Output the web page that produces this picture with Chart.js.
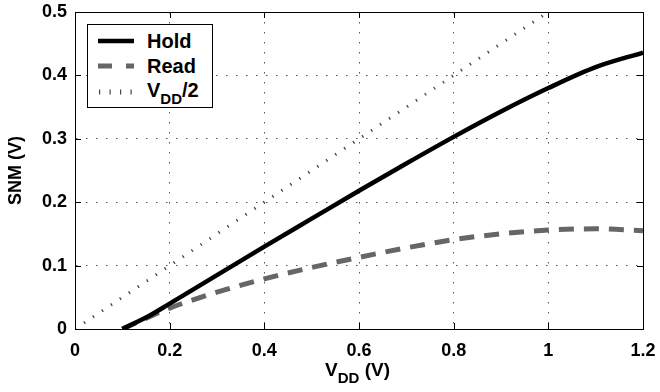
<!DOCTYPE html>
<html>
<head>
<meta charset="utf-8">
<script src="https://cdn.jsdelivr.net/npm/chart.js@4.4.1/dist/chart.umd.min.js"></script>
<style>
  html, body { margin: 0; padding: 0; background: #fff; }
  #wrap { position: relative; width: 660px; height: 392px; font-family: "Liberation Sans", Arial, sans-serif; font-weight: bold; color: #000; }
  #chart { position: absolute; left: 0; top: 0; }
  #legend { position: absolute; left: 87px; top: 24px; width: 126px; height: 84px; border: 1px solid #000; background: #fff; box-sizing: border-box; }
  #legend .row { position: absolute; left: 0; width: 100%; height: 24px; }
  #legend svg { position: absolute; left: 10px; top: 0; }
  #legend .lbl { position: absolute; left: 59px; top: 1px; font-size: 20px; line-height: 22px; }
  sub { font-size: 15px; vertical-align: -7px; line-height: 0; }
  #xtitle { position: absolute; left: 0; width: 660px; top: 359px; text-align: center; font-size: 19px; padding-left: 55px; box-sizing: border-box; }
</style>
</head>
<body>
<div id="wrap">
  <canvas id="chart" width="660" height="392"></canvas>
  <div id="legend">
    <div class="row" style="top:4px">
      <svg width="40" height="24"><line x1="0" y1="12" x2="36" y2="12" stroke="#000" stroke-width="4.5"/></svg>
      <div class="lbl">Hold</div>
    </div>
    <div class="row" style="top:29px">
      <svg width="40" height="24"><line x1="0" y1="12" x2="36" y2="12" stroke="#666" stroke-width="5" stroke-dasharray="14 14"/></svg>
      <div class="lbl">Read</div>
    </div>
    <div class="row" style="top:53px">
      <svg width="40" height="24"><line x1="1" y1="14" x2="36" y2="14" stroke="#444" stroke-width="5" stroke-dasharray="1.2 9.3"/></svg>
      <div class="lbl">V<sub>DD</sub>/2</div>
    </div>
  </div>
  <div id="xtitle">V<sub>DD</sub> (V)</div>
</div>
<script>
const vdd  = [0.10, 0.15, 0.20, 0.30, 0.40, 0.50, 0.60, 0.70, 0.80, 0.90, 1.00, 1.10, 1.20];
const hold = [0.000, 0.018, 0.040, 0.085, 0.130, 0.174, 0.218, 0.261, 0.303, 0.343, 0.380, 0.413, 0.436];
const read = [0.000, 0.017, 0.033, 0.058, 0.079, 0.097, 0.113, 0.128, 0.141, 0.150, 0.156, 0.158, 0.155];
const halfX = [0, 1.0];
const halfY = [0, 0.5];
const xTicks = [0, 0.2, 0.4, 0.6, 0.8, 1, 1.2];
const yTicks = [0, 0.1, 0.2, 0.3, 0.4, 0.5];

const pts = (xs, ys) => xs.map((x, i) => ({ x, y: ys[i] }));
const FONT = { family: '"Liberation Sans", Arial, sans-serif', size: 18, weight: 'bold' };

// closed box + inward tick marks, matlab style
const boxPlugin = {
  id: 'box',
  afterDatasetsDraw(chart) {
    const { ctx, chartArea: a, scales } = chart;
    ctx.save();
    ctx.strokeStyle = '#000';
    ctx.lineWidth = 1;
    ctx.setLineDash([]);
    ctx.beginPath();
    for (const v of xTicks) {
      const px = Math.round(scales.x.getPixelForValue(v)) + 0.5;
      ctx.moveTo(px, a.bottom); ctx.lineTo(px, a.bottom - 6);
      ctx.moveTo(px, a.top); ctx.lineTo(px, a.top + 6);
    }
    for (const v of yTicks) {
      const py = Math.round(scales.y.getPixelForValue(v)) + 0.5;
      ctx.moveTo(a.left, py); ctx.lineTo(a.left + 6, py);
      ctx.moveTo(a.right, py); ctx.lineTo(a.right - 6, py);
    }
    ctx.stroke();
    ctx.strokeRect(Math.round(a.left) + 0.5, Math.round(a.top) + 0.5, Math.round(a.right - a.left), Math.round(a.bottom - a.top));
    ctx.restore();
  }
};

new Chart(document.getElementById('chart'), {
  type: 'line',
  data: {
    datasets: [
      { label: 'Hold', data: pts(vdd, hold), borderColor: '#000', borderWidth: 4.5, cubicInterpolationMode: 'monotone', pointRadius: 0 },
      { label: 'Read', data: pts(vdd, read), borderColor: '#666', borderWidth: 5, borderDash: [15, 10], cubicInterpolationMode: 'monotone', pointRadius: 0 },
      { label: 'VDD/2', data: pts(halfX, halfY), borderColor: '#444', borderWidth: 3, borderDash: [1.3, 9.5], pointRadius: 0 }
    ]
  },
  options: {
    responsive: false,
    animation: false,
    layout: { padding: { top: 12, right: 17, left: 0, bottom: 0 } },
    plugins: { legend: { display: false }, tooltip: { enabled: false } },
    scales: {
      x: {
        type: 'linear', min: 0, max: 1.2,
        afterBuildTicks: s => { s.ticks = xTicks.map(v => ({ value: v })); },
        afterFit: s => { s.height = 63; s.paddingLeft = 0; s.paddingRight = 0; },
        ticks: { color: '#000', font: FONT, padding: 11, maxRotation: 0, callback: v => String(v) },
        grid: { color: '#555', lineWidth: 1, drawTicks: false },
        border: { display: true, color: '#000', dash: [1.5, 8.5] }
      },
      y: {
        type: 'linear', min: 0, max: 0.5,
        afterBuildTicks: s => { s.ticks = yTicks.map(v => ({ value: v })); },
        afterFit: s => { s.width = 75; s.paddingTop = 0; s.paddingBottom = 0; },
        ticks: { color: '#000', font: FONT, padding: 8, callback: v => String(v) },
        grid: { color: '#555', lineWidth: 1, drawTicks: false },
        border: { display: true, color: '#000', dash: [1.5, 8.5] },
        title: { display: true, text: 'SNM (V)', color: '#000', font: FONT, padding: { top: 5, bottom: 2 } }
      }
    }
  },
  plugins: [boxPlugin]
});
</script>
</body>
</html>
